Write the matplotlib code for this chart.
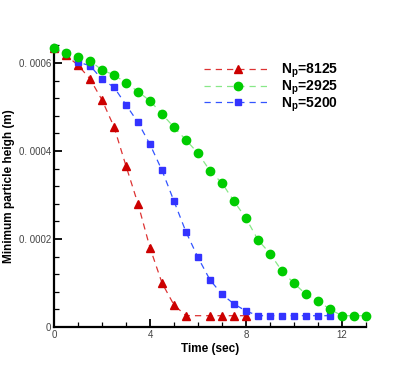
import matplotlib
matplotlib.use("Agg")
import matplotlib.pyplot as plt
from matplotlib.ticker import MultipleLocator, FixedLocator, FixedFormatter

plt.rcParams['font.family'] = ['Liberation Sans', 'DejaVu Sans']

# Data (time in sec, minimum particle height in m)
t_red = [0, 0.5, 1.0, 1.5, 2.0, 2.5, 3.0, 3.5, 4.0, 4.5, 5.0, 5.5, 6.5, 7.0, 7.5, 8.0]
h_red = [0.000634, 0.000618, 0.000595, 0.000564, 0.000516, 0.000455, 0.000366, 0.000280,
         0.000180, 0.000100, 0.000050, 0.0000257, 0.0000257, 0.0000257, 0.0000257, 0.0000257]

t_green = [0, 0.5, 1.0, 1.5, 2.0, 2.5, 3.0, 3.5, 4.0, 4.5, 5.0, 5.5, 6.0, 6.5, 7.0, 7.5,
           8.0, 8.5, 9.0, 9.5, 10.0, 10.5, 11.0, 11.5, 12.0, 12.5, 13.0]
h_green = [0.000633, 0.000623, 0.000614, 0.000605, 0.000584, 0.000573, 0.000555, 0.000535,
           0.000514, 0.000484, 0.000454, 0.000425, 0.000395, 0.000355, 0.000327, 0.000286,
           0.000247, 0.000198, 0.000167, 0.000127, 0.0000993, 0.0000743, 0.0000591,
           0.0000402, 0.0000257, 0.0000257, 0.0000257]

t_blue = [0, 0.5, 1.0, 1.5, 2.0, 2.5, 3.0, 3.5, 4.0, 4.5, 5.0, 5.5, 6.0, 6.5, 7.0, 7.5,
          8.0, 8.5, 9.0, 9.5, 10.0, 10.5, 11.0, 11.5]
h_blue = [0.000633, 0.000623, 0.000602, 0.000594, 0.000563, 0.000545, 0.000505, 0.000465,
          0.000415, 0.000356, 0.000286, 0.000216, 0.000158, 0.000107, 0.0000743, 0.0000523,
          0.0000364, 0.0000257, 0.0000257, 0.0000257, 0.0000257, 0.0000257, 0.0000257,
          0.0000257]

labels = [r'N$_\mathregular{p}$=8125', r'N$_\mathregular{p}$=2925', r'N$_\mathregular{p}$=5200']
x_ticks = [0, 4, 8, 12]
y_ticks = [0, 0.0002, 0.0004, 0.0006]
y_ticklabels = ['0', '0. 0002', '0. 0004', '0. 0006']

fig = plt.figure(figsize=(4.15, 3.69), dpi=100)
ax = fig.add_axes([54/415, 1-327/369, 312/415, (327-45.4)/369])

dash = (0, (5, 4))
ax.plot(t_red, h_red, linestyle=dash, color='#dd3333', lw=0.9, marker='^', ms=5.5,
        mfc='#cc0000', mec='#cc0000', label=labels[0], clip_on=False, zorder=3)
ax.plot(t_green, h_green, linestyle=dash, color='#88e888', lw=0.9, marker='o', ms=6.0,
        mfc='#00cc00', mec='#00cc00', label=labels[1], clip_on=False, zorder=4)
ax.plot(t_blue, h_blue, linestyle=dash, color='#3355ff', lw=0.9, marker='s', ms=4.6,
        mfc='#3333ff', mec='#3333ff', label=labels[2], clip_on=False, zorder=3.5)

ax.set_xlim(0, 13)
ax.set_ylim(0, 0.00064)

for s in ['top', 'right']:
    ax.spines[s].set_visible(False)
for s in ['left', 'bottom']:
    ax.spines[s].set_linewidth(1.6)

ax.xaxis.set_major_locator(FixedLocator(x_ticks))
ax.xaxis.set_minor_locator(MultipleLocator(1))
ax.yaxis.set_major_locator(FixedLocator(y_ticks))
ax.yaxis.set_major_formatter(FixedFormatter(y_ticklabels))
ax.yaxis.set_minor_locator(MultipleLocator(0.00004))
ax.tick_params(which='major', direction='in', length=6, width=1.3, labelsize=7,
               labelcolor='#444444', pad=2)
ax.tick_params(which='minor', direction='in', length=3.5, width=0.9)

ax.set_xlabel('Time (sec)', fontsize=8.5, fontweight='bold', labelpad=2)
ax.set_ylabel('Minimum particle heigh (m)', fontsize=8.5, fontweight='bold', labelpad=3)

leg = ax.legend(loc='upper left', bbox_to_anchor=(0.46, 0.967), frameon=False,
                prop={'weight': 'bold', 'size': 10}, handlelength=4.8,
                numpoints=1, labelspacing=-0.1, handletextpad=0.7, borderpad=0)

fig.savefig('out.png', dpi=100)
